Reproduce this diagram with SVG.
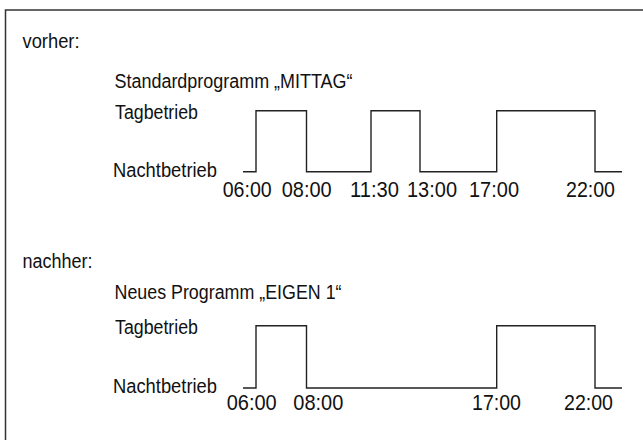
<svg xmlns="http://www.w3.org/2000/svg" width="643" height="440" viewBox="0 0 643 440">
<style>
.lbl{font-family:"Liberation Sans","Arial",sans-serif;font-size:20px;fill:#111}
.tm{font-family:"Liberation Sans","Arial",sans-serif;font-size:22px;fill:#111}
.wave{fill:none;stroke:#222;stroke-width:1.4}
.frame{fill:#fff;stroke:#333;stroke-width:1.5}
</style>
<rect x="0" y="0" width="643" height="440" fill="#fff"/>
<rect class="frame" x="5.5" y="10" width="700" height="500"/>
<g id="vorher">
<text class="lbl" x="22.5" y="48" textLength="57" lengthAdjust="spacingAndGlyphs">vorher:</text>
<text class="lbl" x="114.5" y="88" textLength="238" lengthAdjust="spacingAndGlyphs">Standardprogramm „MITTAG“</text>
<text class="lbl" x="115" y="119" textLength="83" lengthAdjust="spacingAndGlyphs">Tagbetrieb</text>
<text class="lbl" x="113" y="177" textLength="104" lengthAdjust="spacingAndGlyphs">Nachtbetrieb</text>
<polyline class="wave" points="243,171.7 256,171.7 256,110.7 306.5,110.7 306.5,171.7 371,171.7 371,110.7 420,110.7 420,171.7 496.7,171.7 496.7,110.7 595,110.7 595,171.7 622,171.7"/>
<text class="tm" x="222.7" y="196.5" textLength="49" lengthAdjust="spacingAndGlyphs">06:00</text>
<text class="tm" x="281.7" y="196.5" textLength="50" lengthAdjust="spacingAndGlyphs">08:00</text>
<text class="tm" x="350" y="196.5" textLength="49" lengthAdjust="spacingAndGlyphs">11:30</text>
<text class="tm" x="407" y="196.5" textLength="50" lengthAdjust="spacingAndGlyphs">13:00</text>
<text class="tm" x="469" y="196.5" textLength="50" lengthAdjust="spacingAndGlyphs">17:00</text>
<text class="tm" x="566" y="196.5" textLength="49" lengthAdjust="spacingAndGlyphs">22:00</text>
</g>
<g id="nachher">
<text class="lbl" x="22.5" y="268" textLength="70" lengthAdjust="spacingAndGlyphs">nachher:</text>
<text class="lbl" x="114.5" y="299" textLength="227" lengthAdjust="spacingAndGlyphs">Neues Programm „EIGEN 1“</text>
<text class="lbl" x="115" y="333.5" textLength="83" lengthAdjust="spacingAndGlyphs">Tagbetrieb</text>
<text class="lbl" x="113" y="392.5" textLength="104" lengthAdjust="spacingAndGlyphs">Nachtbetrieb</text>
<polyline class="wave" points="243,388 256,388 256,325.7 306.5,325.7 306.5,388 496.7,388 496.7,325.7 595,325.7 595,388 622,388"/>
<text class="tm" x="226.7" y="409.5" textLength="50" lengthAdjust="spacingAndGlyphs">06:00</text>
<text class="tm" x="293.3" y="409.5" textLength="50" lengthAdjust="spacingAndGlyphs">08:00</text>
<text class="tm" x="472" y="409.5" textLength="49" lengthAdjust="spacingAndGlyphs">17:00</text>
<text class="tm" x="564" y="409.5" textLength="49" lengthAdjust="spacingAndGlyphs">22:00</text>
</g>
</svg>
